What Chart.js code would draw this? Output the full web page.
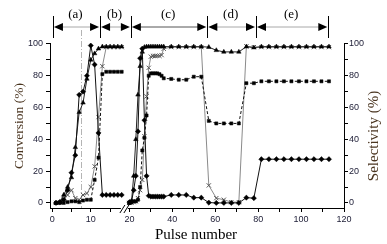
<!DOCTYPE html>
<html lang="en">
<head>
<meta charset="UTF-8">
<title>Conversion and selectivity vs pulse number</title>
<style>
  body { margin: 0; background: #fff; }
  #wrap { width: 387px; height: 244px; }
</style>
</head>
<body>
<div id="wrap"><canvas id="pulseChart" width="387" height="244"></canvas></div>

<script src="https://cdn.jsdelivr.net/npm/chart.js"></script>
<script>
// pulse numbers at which all series were read
const pulses = [
  1, 2, 3, 4, 5, 6, 7, 8, 9, 10, 11, 12, 13, 14, 15, 16, 17, 18,
  20, 21, 22, 23, 24, 25, 26, 27, 28, 29, 30, 31, 32, 33, 34, 35, 36,
  39.5, 43, 46.5, 50, 53.5, 57, 60.5, 64, 67.5, 71, 74.5, 78, 81.5, 85, 88.5, 92, 95.5, 99, 102.5, 106, 109.5, 113
];

const diamondVals = [
  0, 0.5, 2, 8, 19, 30, 68, 70, 80, 99, 87, 44, 5, 5, 5, 5, 5, 5,
  0.5, 1, 8, 17, 45, 91, 97, 52, 17, 4.5, 4, 4, 4, 4, 4, 4, 4,
  5, 5, 5, 3.3, 3.3, 0.2, 0, 0, 0, 0, 3.3, 3, 27.5, 27.5, 27.5, 27.5, 27.5, 27.5, 27.5, 27.5, 27.5, 27.5
];

const triangleVals = [
  0, 0.5, 5, 10, 16, 35, 57, 63, 78, 90, 94, 97, 98.3, 98.3, 98.3, 98.3, 98.3, 98.3,
  0, 1, 17, 40, 68, 86, 95, 98, 98.3, 98.3, 98.3, 98.3, 98.3, 98.3, 98.3, 98.3, 98.3,
  98.3, 98.3, 98.3, 98.3, 98.3, 98, 96, 95, 95, 95, 98.3, 97.7, 98.3, 98.3, 98.3, 98.3, 98.3, 98.3, 98.3, 98.3, 98.3, 98.3
];

const crossVals = [
  0, 0.5, 2, 5, 8, 3, 2, 5, 6, 10, 23, 54, 86, 98, 98, 98, 98, 98,
  0, 0, 0.5, 1, 3, 8, 14.5, 42, 67, 85, 92, 92.5, 92.5, 92.5, 92.5, 93, 97,
  98, 98, 98, 98, 98, 11, 3, 2, 0.5, 0.5, 98.5, 98, 98, 98, 98, 98, 98, 98, 98, 98, 98, 98
];

const squareVals = [
  0, 0, 0, 0.5, 1, 1, 0.5, 1.5, 2, 2, 14.5, 28.5, 81, 82.5, 82.5, 82.5, 82.5, 82.5,
  0, 0.5, 1, 1, 2, 10, 33, 41, 55, 80, 81.5, 81.5, 81.5, 81.5, 81, 80, 78.4,
  78, 77.5, 77.5, 79.4, 79.4, 51.6, 50, 50, 50, 50, 75.3, 75.3, 76.5, 76.5, 76.5, 76.5, 76.5, 76.5, 76.5, 76.5, 76.5, 76.5
];

const xMajorTicks = [0, 10, 20, 40, 60, 80, 100, 120];
const xMinorTicks = [5, 15, 30, 50, 70, 90, 110];
const yMajorTicks = [0, 20, 40, 60, 80, 100];
const yMinorTicks = [10, 30, 50, 70, 90];

const regionNames = ['(a)', '(b)', '(c)', '(d)', '(e)'];
const regionEdges = [0.2, 12.4, 20.7, 56.3, 79, 112.7];
const markerPulse = 7.6;     // dash-dot guide line
const breakPulse = 19;       // the x axis is broken here
const breakFrom = 17.8, breakTo = 19.6;

// the 0-20 stretch of the axis is drawn wider than the rest
function toAxis(p) {
  return p <= 20 ? p * 1.8 : 36 + (p - 20);
}

function series(vals) {
  const pts = [];
  pulses.forEach((p, i) => {
    if (i > 0 && pulses[i - 1] < breakPulse && p > breakPulse) {
      pts.push({ x: toAxis(breakPulse), y: null });
    }
    pts.push({ x: toAxis(p), y: vals[i] });
  });
  return pts;
}

const serif = "'Liberation Serif', 'Times New Roman', serif";
const tickFont = { family: "'Liberation Sans', Arial, sans-serif", size: 9 };
const tickColor = '#22223a';

function yAxis(pos, pad) {
  return {
    type: 'linear',
    position: pos,
    min: -3.2,
    max: 100.6,
    afterBuildTicks: (s) => {
      s.ticks = yMajorTicks.concat(yMinorTicks).sort((a, b) => a - b).map(v => ({ value: v }));
    },
    afterFit: (s) => { s.width = pos === 'left' ? 50 : 43; },
    grid: { drawOnChartArea: false, drawTicks: true, tickLength: 4, color: '#000' },
    border: { display: true, color: '#000', width: 1 },
    ticks: {
      padding: pad,
      font: tickFont,
      color: tickColor,
      autoSkip: false,
      callback: (v) => yMajorTicks.includes(v) ? String(v) : ''
    }
  };
}

const decor = {
  id: 'decor',
  beforeDatasetsDraw(chart) {
    const { ctx, chartArea, scales: { x } } = chart;
    const px = x.getPixelForValue(toAxis(markerPulse));
    ctx.save();
    ctx.strokeStyle = '#b4b4b4';
    ctx.lineWidth = 1;
    ctx.setLineDash([6, 2, 1, 2]);
    ctx.beginPath();
    ctx.moveTo(px, 30);
    ctx.lineTo(px, chartArea.bottom);
    ctx.stroke();
    ctx.restore();
  },
  afterDraw(chart) {
    const { ctx, chartArea, scales: { x } } = chart;
    const bottom = chartArea.bottom;
    ctx.save();

    // axis break on the bottom axis
    const g0 = x.getPixelForValue(toAxis(breakFrom));
    const g1 = x.getPixelForValue(toAxis(breakTo));
    ctx.fillStyle = '#fff';
    ctx.fillRect(g0, bottom - 1, g1 - g0, 3);
    ctx.strokeStyle = '#000';
    ctx.lineWidth = 1;
    [g0 - 1, g0 + 3].forEach(s => {
      ctx.beginPath();
      ctx.moveTo(s, bottom + 5);
      ctx.lineTo(s + 5, bottom - 3);
      ctx.stroke();
    });

    // region arrows along the top
    const ay = 27;
    ctx.font = '13px ' + serif;
    ctx.textAlign = 'center';
    ctx.textBaseline = 'middle';
    regionNames.forEach((name, i) => {
      const x0 = x.getPixelForValue(toAxis(regionEdges[i]));
      const x1 = x.getPixelForValue(toAxis(regionEdges[i + 1]));
      ctx.strokeStyle = i === 2 ? '#555' : '#a8a8a8';
      ctx.beginPath();
      ctx.moveTo(x0 + 4, ay);
      ctx.lineTo(x1 - 4, ay);
      ctx.stroke();
      ctx.fillStyle = '#000';
      ctx.beginPath();
      ctx.moveTo(x0 + 1, ay);
      ctx.lineTo(x0 + 10, ay - 4);
      ctx.lineTo(x0 + 10, ay + 4);
      ctx.closePath();
      ctx.fill();
      ctx.beginPath();
      ctx.moveTo(x1 - 1, ay);
      ctx.lineTo(x1 - 10, ay - 4);
      ctx.lineTo(x1 - 10, ay + 4);
      ctx.closePath();
      ctx.fill();
      ctx.fillText(name, (x0 + x1) / 2 - 1, 15);
    });
    ctx.strokeStyle = '#000';
    regionEdges.forEach(e => {
      const px = Math.round(x.getPixelForValue(toAxis(e))) + 0.5;
      ctx.beginPath();
      ctx.moveTo(px, 16);
      ctx.lineTo(px, 38);
      ctx.stroke();
    });

    // axis titles
    ctx.textBaseline = 'alphabetic';
    ctx.fillStyle = '#000';
    ctx.font = '15px ' + serif;
    ctx.fillText('Pulse number', 196, 239);

    ctx.fillStyle = '#4a3520';
    ctx.font = '13.5px ' + serif;
    ctx.translate(23, 126);
    ctx.rotate(-Math.PI / 2);
    ctx.fillText('Conversion (%)', 0, 0);
    ctx.setTransform(1, 0, 0, 1, 0, 0);

    ctx.font = '15px ' + serif;
    ctx.translate(378, 136);
    ctx.rotate(-Math.PI / 2);
    ctx.fillText('Selectivity (%)', 0, 0);
    ctx.restore();
  }
};

new Chart(document.getElementById('pulseChart'), {
  type: 'line',
  data: {
    datasets: [
      {
        label: 'diamonds',
        data: series(diamondVals),
        yAxisID: 'y',
        borderColor: '#111',
        borderWidth: 1,
        pointStyle: 'rectRot',
        pointRadius: 2.6,
        pointBackgroundColor: '#000',
        pointBorderColor: '#000',
        pointBorderWidth: 0.5
      },
      {
        label: 'triangles',
        data: series(triangleVals),
        yAxisID: 'y',
        borderColor: '#222',
        borderWidth: 1,
        pointStyle: 'triangle',
        pointRadius: 2.6,
        pointBackgroundColor: '#000',
        pointBorderColor: '#000',
        pointBorderWidth: 0.5
      },
      {
        label: 'squares',
        data: series(squareVals),
        yAxisID: 'y1',
        borderColor: '#111',
        borderWidth: 1,
        borderDash: [3, 2],
        pointStyle: 'rect',
        pointRadius: 2.2,
        pointBackgroundColor: '#000',
        pointBorderColor: '#000',
        pointBorderWidth: 0.5
      },
      {
        label: 'crosses',
        data: series(crossVals),
        yAxisID: 'y1',
        borderColor: '#8a8a8a',
        borderWidth: 1,
        pointStyle: 'crossRot',
        pointRadius: 3,
        pointBorderColor: '#555',
        pointBorderWidth: 1
      }
    ]
  },
  options: {
    responsive: false,
    animation: false,
    devicePixelRatio: 1,
    layout: { padding: { top: 43, left: 0, right: 0, bottom: 0 } },
    plugins: { legend: { display: false }, tooltip: { enabled: false } },
    elements: { line: { tension: 0 } },
    scales: {
      x: {
        type: 'linear',
        min: -1,
        max: 136,
        afterBuildTicks: (s) => {
          s.ticks = xMajorTicks.concat(xMinorTicks).sort((a, b) => a - b).map(p => ({ value: toAxis(p) }));
        },
        afterFit: (s) => { s.height = 36; },
        grid: { drawOnChartArea: false, drawTicks: true, tickLength: 4, color: '#000' },
        border: { display: true, color: '#000', width: 1 },
        ticks: {
          padding: 2,
          font: tickFont,
          color: tickColor,
          autoSkip: false,
          maxRotation: 0,
          callback: (v) => {
            const p = xMajorTicks.find(t => Math.abs(toAxis(t) - v) < 1e-6);
            return p === undefined ? '' : String(p);
          }
        }
      },
      y: yAxis('left', 3),
      y1: yAxis('right', 1)
    }
  },
  plugins: [decor]
});
</script>
</body>
</html>
